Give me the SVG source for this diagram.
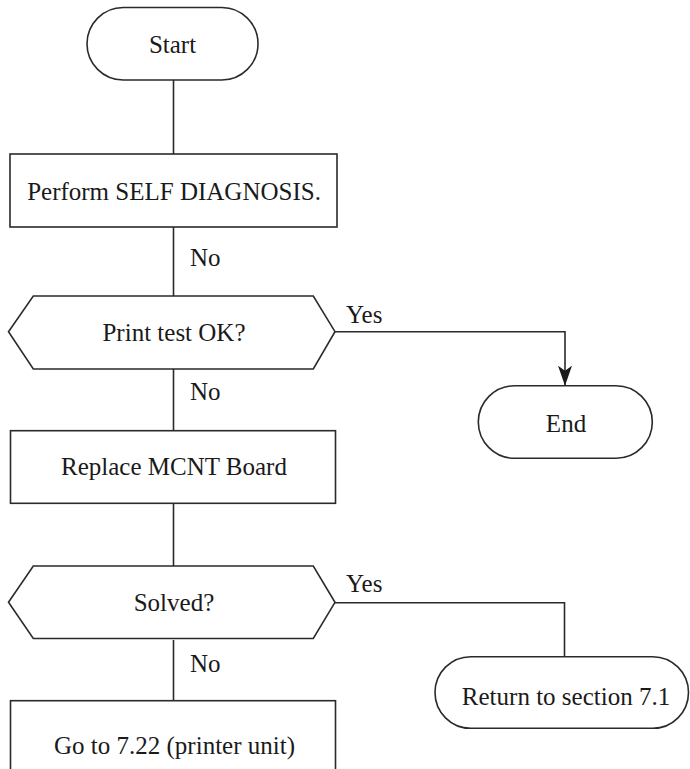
<svg xmlns="http://www.w3.org/2000/svg" width="690" height="769" viewBox="0 0 690 769">
<style>
.shape{fill:#fff;stroke:#2a2a2a;stroke-width:1.6}
.line{fill:none;stroke:#2a2a2a;stroke-width:1.6}
.t{font-family:"Liberation Serif","Times New Roman",serif;font-size:25px;fill:#1a1a1a;text-anchor:middle}
.lbl{font-family:"Liberation Serif","Times New Roman",serif;font-size:25px;fill:#1a1a1a}
</style>
<defs>
<marker id="arrow" viewBox="0 0 20 14" refX="20" refY="7" markerWidth="20" markerHeight="14" markerUnits="userSpaceOnUse" orient="auto">
<path d="M0,0 L20,7 L0,14 L5,7 z" fill="#1a1a1a"/>
</marker>
</defs>
<rect width="690" height="769" fill="#fff"/>
<g id="connectors">
<line class="line" x1="173.5" y1="80" x2="173.5" y2="154"/>
<line class="line" x1="173.5" y1="227" x2="173.5" y2="296"/>
<path class="line" d="M335,331.7 H565 V385.7" marker-end="url(#arrow)"/>
<line class="line" x1="173.5" y1="369" x2="173.5" y2="430.7"/>
<line class="line" x1="173.5" y1="503.3" x2="173.5" y2="566"/>
<path class="line" d="M335,602.7 H564.5 V656.7"/>
<line class="line" x1="173.5" y1="640" x2="173.5" y2="700.7"/>
<text class="lbl" x="190" y="266">No</text>
<text class="lbl" x="346" y="323">Yes</text>
<text class="lbl" x="190" y="400">No</text>
<text class="lbl" x="346" y="592">Yes</text>
<text class="lbl" x="190" y="672">No</text>
</g>
<g id="start">
<rect class="shape" x="87" y="7.5" width="171" height="72.5" rx="36.25" ry="36.25"/>
<text class="t" x="172.5" y="53">Start</text>
</g>
<g id="selfdiag">
<rect class="shape" x="10" y="154" width="327" height="73"/>
<text class="t" x="174" y="200">Perform SELF DIAGNOSIS.</text>
</g>
<g id="printtest">
<polygon class="shape" points="8.5,331.7 33.3,296 313.3,296 335,331.7 313.3,369 33.3,369"/>
<text class="t" x="174" y="340.5">Print test OK?</text>
</g>
<g id="end">
<rect class="shape" x="478.3" y="385.7" width="174" height="72.6" rx="36.3" ry="36.3"/>
<text class="t" x="566" y="431.5">End</text>
</g>
<g id="replace">
<rect class="shape" x="10.5" y="430.7" width="325" height="72.6"/>
<text class="t" x="174" y="475">Replace MCNT Board</text>
</g>
<g id="solved">
<polygon class="shape" points="8.5,602.3 33.3,566 313.3,566 335,602.3 313.3,638.5 33.3,638.5"/>
<text class="t" x="174" y="611">Solved?</text>
</g>
<g id="return">
<rect class="shape" x="435" y="656.7" width="253.5" height="71.6" rx="35.8" ry="35.8"/>
<text class="t" x="566" y="705">Return to section 7.1</text>
</g>
<g id="goto">
<rect class="shape" x="10.5" y="700.7" width="325" height="100"/>
<text class="t" x="174.5" y="754">Go to 7.22 (printer unit)</text>
</g>
</svg>
